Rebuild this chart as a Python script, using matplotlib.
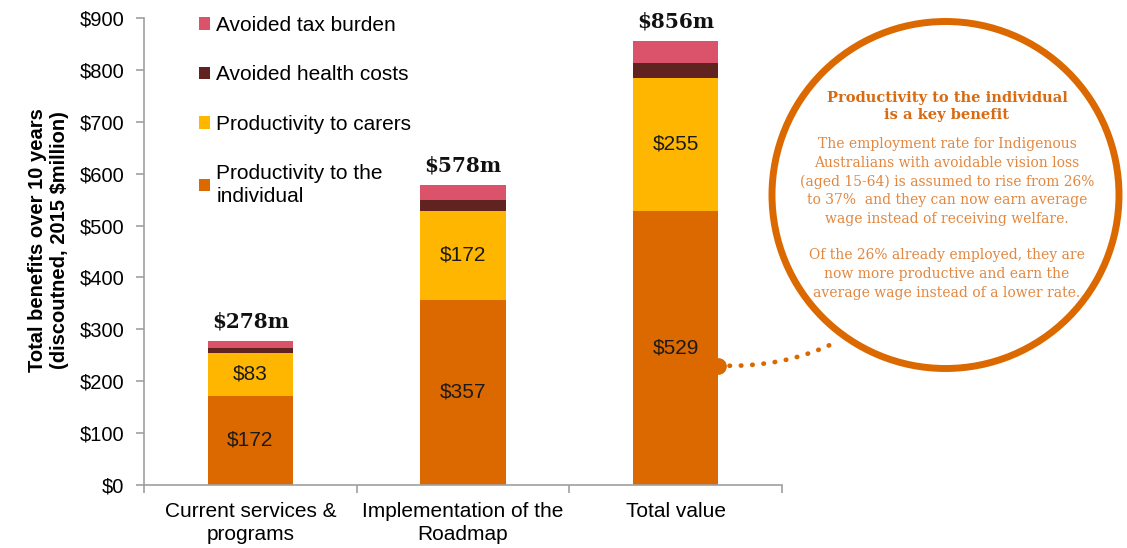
import matplotlib
matplotlib.use("Agg")
import matplotlib.pyplot as plt
import numpy as np
from matplotlib.patches import Circle, Patch
from matplotlib.path import Path
from matplotlib.patches import PathPatch

plt.rcParams['font.family'] = ['Liberation Sans', 'DejaVu Sans']

categories = ["Current services &\nprograms", "Implementation of the\nRoadmap", "Total value"]
individual = [172, 357, 529]
carers = [83, 172, 255]
health = [9, 20, 30]
tax = [14, 29, 42]
totals_labels = ["$278m", "$578m", "$856m"]
series_names = ["Productivity to the\nindividual", "Productivity to carers",
                "Avoided health costs", "Avoided tax burden"]
colors = ["#DC6900", "#FFB600", "#602320", "#DB536A"]
yticks = np.arange(0, 901, 100)

fig = plt.figure(figsize=(11.27, 5.48), dpi=100)
ax = fig.add_axes([0.1278, 0.115, 0.5661, 0.852])

x = np.arange(len(categories))
w = 0.4
series = [individual, carers, health, tax]
bottom = np.zeros(len(categories))
for vals, col in zip(series, colors):
    ax.bar(x, vals, w, bottom=bottom, color=col, edgecolor='none', zorder=2)
    bottom = bottom + np.array(vals)

for i in range(len(categories)):
    ax.text(x[i], individual[i] / 2, f"${individual[i]}", ha='center', va='center',
            fontsize=15, color='#1a1a1a')
    ax.text(x[i], individual[i] + carers[i] / 2, f"${carers[i]}", ha='center', va='center',
            fontsize=15, color='#1a1a1a')
    ax.annotate(totals_labels[i], (x[i], bottom[i]), xytext=(0, 7), textcoords='offset points',
                ha='center', va='bottom', fontsize=14.5, fontweight='bold',
                family=['DejaVu Serif'], color='#111111')

ax.set_xlim(-0.5, 2.5)
ax.set_ylim(0, 900)
ax.set_yticks(yticks)
ax.set_yticklabels([f"${v}" for v in yticks], fontsize=14.5)
ax.set_xticks(x)
ax.set_xticklabels(categories, fontsize=15, linespacing=1.3)
ax.tick_params(axis='x', length=0, pad=12)
ax.set_xticks([-0.5, 0.5, 1.5, 2.5], minor=True)
ax.tick_params(axis='x', which='minor', length=6, color='#A0A0A0', width=1.2)
ax.tick_params(axis='y', length=6, color='#A0A0A0', width=1.2, pad=8)
for s in ['top', 'right']:
    ax.spines[s].set_visible(False)
for s in ['left', 'bottom']:
    ax.spines[s].set_color('#A0A0A0')
    ax.spines[s].set_linewidth(1.2)
ax.set_ylabel("Total benefits over 10 years\n(discoutned, 2015 $million)", fontsize=14.5,
              fontweight='bold', linespacing=1.2)
ax.yaxis.set_label_coords(-0.117, 0.525)

handles = [Patch(facecolor=c, edgecolor='none') for c in colors]
leg = ax.legend(handles[::-1], series_names[::-1], loc='upper left',
                bbox_to_anchor=(0.056, 1.045), frameon=False, fontsize=15,
                handlelength=0.55, handleheight=0.55, handletextpad=0.3,
                labelspacing=1.46)
for t in leg.get_texts():
    t.set_linespacing(1.25)

# callout circle
orange = '#DC6900'
circ = Circle((9.455, 5.48 - 1.95), 1.735, transform=fig.dpi_scale_trans,
              facecolor='white', edgecolor=orange, linewidth=5.0, zorder=1)
fig.add_artist(circ)

cx = 947 / 1127
fig.text(cx, 1 - 106.5 / 548, "Productivity to the individual\nis a key benefit",
         ha='center', va='center', fontsize=10.5, fontweight='bold',
         family=['DejaVu Serif'], color='#D86A10', linespacing=1.3)
fig.text(cx, 1 - 181.5 / 548,
         "The employment rate for Indigenous\nAustralians with avoidable vision loss\n"
         "(aged 15-64) is assumed to rise from 26%\nto 37%  and they can now earn average\n"
         "wage instead of receiving welfare.",
         ha='center', va='center', fontsize=10, family=['DejaVu Serif'],
         color='#E2873F', linespacing=1.42)
fig.text(cx, 1 - 274 / 548,
         "Of the 26% already employed, they are\nnow more productive and earn the\n"
         "average wage instead of a lower rate.",
         ha='center', va='center', fontsize=10, family=['DejaVu Serif'],
         color='#E2873F', linespacing=1.42)

# dotted connector from bar to circle
start_disp = ax.transData.transform((x[2] + w / 2, 230))
sx, sy = fig.transFigure.inverted().transform(start_disp)
ex, ey = 836 / 1127, 1 - 342 / 548
mx, my = 785 / 1127, 1 - 368 / 548
path = Path([(sx, sy), (mx, my), (ex, ey)], [Path.MOVETO, Path.CURVE3, Path.CURVE3])
pp = PathPatch(path, transform=fig.transFigure, facecolor='none', edgecolor=orange,
               linewidth=3.4, linestyle=(0, (0.1, 2.3)), capstyle='round', zorder=3)
fig.add_artist(pp)
ax.plot([x[2] + w / 2], [230], marker='o', markersize=11, color=orange,
        clip_on=False, zorder=4)

fig.savefig("out.png", dpi=100)
